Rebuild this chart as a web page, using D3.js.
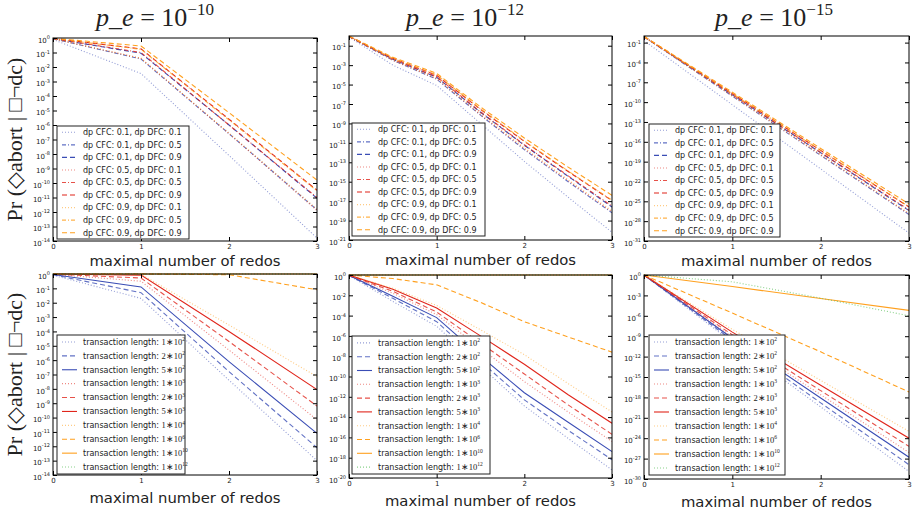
<!doctype html>
<html lang=en>
<head>
<meta charset=utf-8>
<title>Abort probability vs redos</title>
<script src="https://d3js.org/d3.v7.min.js"></script>
<style>
body{margin:0;background:#fff;}
svg text{font-family:"DejaVu Sans",sans-serif;fill:#222;}
</style>
</head>
<body>
<div id="container"></div>
<script>
var w = 912, h = 512;

// maximal number of redos (x values) per panel
var redosCoarse = [0, 1, 2, 3];
var redosFine = [0, 0.5, 1, 1.5, 2, 2.5, 3];
var xTicks = [0, 1, 2, 3];

var dpLabels = [
  "dp CFC: 0.1, dp DFC: 0.1", "dp CFC: 0.1, dp DFC: 0.5", "dp CFC: 0.1, dp DFC: 0.9",
  "dp CFC: 0.5, dp DFC: 0.1", "dp CFC: 0.5, dp DFC: 0.5", "dp CFC: 0.5, dp DFC: 0.9",
  "dp CFC: 0.9, dp DFC: 0.1", "dp CFC: 0.9, dp DFC: 0.5", "dp CFC: 0.9, dp DFC: 0.9"
];
// transaction length = mantissa * 10^exponent
var lengthMant = ["1", "2", "5", "1", "2", "5", "1", "1", "1", "1"];
var lengthExp = ["2", "2", "2", "3", "3", "3", "4", "6", "10", "12"];

var titleExps = ["−10", "−12", "−15"];

// log10 of Pr(abort | no dc), top row, one array per legend entry
var topPe10 = [
  [-0.1, -2.45, -8.1, -13.8],
  [-0.05, -1.45, -6.6, -11.85],
  [-0.04, -1.05, -6.0, -11.05],
  [-0.05, -1.4, -6.6, -11.9],
  [-0.04, -1.0, -6.0, -11.0],
  [-0.03, -0.75, -5.6, -10.5],
  [-0.05, -1.4, -6.55, -11.8],
  [-0.03, -0.78, -5.65, -10.55],
  [-0.02, -0.55, -5.15, -9.8]
];
var topPe12 = [
  [-0.1, -3.0, -5.1, -9.0, -12.9, -16.6, -20.2],
  [-0.06, -2.5, -4.45, -8.15, -11.7, -15.0, -18.2],
  [-0.05, -2.4, -4.25, -7.85, -11.25, -14.45, -17.6],
  [-0.06, -2.5, -4.4, -8.1, -11.6, -14.9, -18.1],
  [-0.05, -2.4, -4.2, -7.8, -11.2, -14.4, -17.5],
  [-0.02, -2.3, -4.05, -7.55, -10.85, -13.95, -16.95],
  [-0.05, -2.45, -4.35, -8.0, -11.5, -14.8, -18.0],
  [-0.02, -2.3, -4.0, -7.5, -10.8, -13.9, -16.9],
  [0, -2.2, -3.85, -7.3, -10.5, -13.5, -16.4]
];
var topPe15 = [
  [-0.7, -10.4, -20.1, -29.8],
  [-0.13, -9.1, -18.05, -27.0],
  [-0.1, -8.9, -17.65, -26.4],
  [-0.12, -9.05, -17.95, -26.9],
  [-0.1, -8.85, -17.6, -26.3],
  [-0.08, -8.7, -17.3, -25.85],
  [-0.12, -9.0, -17.9, -26.8],
  [-0.08, -8.7, -17.3, -25.8],
  [-0.05, -8.5, -17.0, -25.4]
];

// bottom row, one array per transaction length
var bottomPe10 = [
  [-0.08, -1.7, -7.4, -13.0],
  [-0.05, -1.3, -6.8, -12.1],
  [-0.03, -0.9, -6.1, -11.1],
  [-0.02, -0.5, -5.3, -10.15],
  [-0.01, -0.28, -4.7, -9.2],
  [0, -0.08, -4.0, -8.05],
  [0, -0.02, -3.55, -7.15],
  [0, 0, -0.05, -1.1],
  [0, 0, 0, 0],
  [0, 0, 0, 0]
];
var bottomPe12 = [
  [-0.05, -2.6, -5.05, -9.0, -12.9, -16.1, -19.2],
  [-0.04, -2.3, -4.6, -8.5, -12.3, -15.3, -18.2],
  [-0.03, -2.1, -4.2, -8.0, -11.6, -14.5, -17.4],
  [-0.02, -1.8, -3.9, -7.2, -10.5, -13.5, -16.4],
  [-0.02, -1.6, -3.65, -6.7, -9.75, -12.8, -15.7],
  [-0.01, -1.4, -3.25, -6.0, -8.8, -11.8, -14.6],
  [-0.01, -1.3, -3.0, -5.4, -7.85, -10.7, -13.5],
  [0, -0.35, -0.97, -2.7, -4.6, -6.1, -7.6],
  [0, 0, 0, 0, 0, 0, 0],
  [0, 0, 0, 0, 0, 0, 0]
];
var bottomPe15 = [
  [0, -9.9, -19.4, -28.9],
  [0, -9.6, -18.8, -27.9],
  [0, -9.3, -18.1, -26.8],
  [0, -9.1, -17.6, -26.1],
  [0, -8.8, -17.0, -25.2],
  [0, -8.4, -16.2, -24.0],
  [0, -8.0, -15.5, -23.0],
  [0, -5.6, -11.3, -17.2],
  [0, -1.7, -3.45, -5.2],
  [0, -1.0, -3.4, -6.0]
];

var blue = "#3a4db5", red = "#e0251b", orange = "#ffa01e", green = "#6cc66c";
var DOT = "1,2", DASHDOT = "4,2,1,2", DASH = "5,3";
var topStyles = [];
[blue, red, orange].forEach(function(c) {
  topStyles.push({c: c, dash: DOT, op: 0.55});
  topStyles.push({c: c, dash: DASHDOT, op: 0.8});
  topStyles.push({c: c, dash: DASH, op: 1});
});
var bottomStyles = [];
[blue, red, orange].forEach(function(c) {
  bottomStyles.push({c: c, dash: DOT, op: 0.55});
  bottomStyles.push({c: c, dash: DASH, op: c == orange ? 1 : 0.8});
  bottomStyles.push({c: c, dash: null, op: 1});
});
bottomStyles.push({c: green, dash: DOT, op: 0.8});

var panels = [
  {box: [53, 38, 317, 241], xs: redosCoarse, data: topPe10, yMin: -14, yTicks: d3.range(0, -15, -1), styles: topStyles, legend: [57, 126, 189, 239], top: true, col: 0, tx: 155},
  {box: [349, 36, 612, 240], xs: redosFine, data: topPe12, yMin: -21, yTicks: d3.range(-1, -22, -2), styles: topStyles, legend: [352, 123, 485, 236], top: true, col: 1, tx: 465},
  {box: [644, 36, 909, 241], xs: redosCoarse, data: topPe15, yMin: -31, yTicks: d3.range(-1, -32, -3), styles: topStyles, legend: [649, 124, 780, 237], top: true, col: 2, tx: 774},
  {box: [53, 274, 317, 475], xs: redosCoarse, data: bottomPe10, yMin: -14, yTicks: d3.range(0, -15, -1), styles: bottomStyles, legend: [57, 335, 185, 474], top: false, col: 0},
  {box: [349, 275, 612, 478], xs: redosFine, data: bottomPe12, yMin: -20, yTicks: d3.range(0, -21, -2), styles: bottomStyles, legend: [352, 336, 490, 474], top: false, col: 1},
  {box: [644, 275, 909, 479], xs: redosCoarse, data: bottomPe15, yMin: -30, yTicks: d3.range(0, -31, -3), styles: bottomStyles, legend: [649, 335, 785, 475], top: false, col: 2}
];

var svg = d3.select("#container").append("svg")
  .attr("width", w).attr("height", h)
  .style("background", "#fff");

panels.forEach(function(p) {
  var L = p.box[0], T = p.box[1], R = p.box[2], B = p.box[3];
  var x = d3.scaleLinear().domain([0, 3]).range([L, R]);
  var y = d3.scaleLog().domain([Math.pow(10, p.yMin), 1]).range([B, T]);
  var g = svg.append("g");

  var clipId = "clip" + L + "_" + T;
  g.append("clipPath").attr("id", clipId)
    .append("rect").attr("x", L).attr("y", T - 1).attr("width", R - L).attr("height", B - T + 2);

  var line = d3.line()
    .x(function(d, i) { return x(p.xs[i]); })
    .y(function(d) { return y(Math.pow(10, d)); });

  g.append("g").attr("clip-path", "url(#" + clipId + ")")
    .selectAll("path")
    .data(p.data)
    .enter()
    .append("path")
    .attr("d", line)
    .attr("fill", "none")
    .attr("stroke", function(d, i) { return p.styles[i].c; })
    .attr("stroke-opacity", function(d, i) { return p.styles[i].op; })
    .attr("stroke-width", 1.1)
    .attr("stroke-dasharray", function(d, i) { return p.styles[i].dash; });

  var tickVals = p.yTicks.map(function(e) { return Math.pow(10, e); });

  // left axis with superscript labels
  var yl = g.append("g").attr("transform", "translate(" + L + ",0)")
    .call(d3.axisLeft(y).tickValues(tickVals).tickSizeInner(-4).tickSizeOuter(0).tickPadding(3).tickFormat(""));
  yl.selectAll(".tick text").each(function(d) {
    var e = Math.round(Math.log10(d));
    var t = d3.select(this).attr("font-size", 7).attr("text-anchor", "end").attr("dy", "0.6em");
    t.append("tspan").text("10");
    t.append("tspan").attr("dy", -3.5).attr("font-size", 5).text(e == 0 ? "0" : "-" + Math.abs(e));
  });
  var yr = g.append("g").attr("transform", "translate(" + R + ",0)")
    .call(d3.axisRight(y).tickValues(tickVals).tickSizeInner(-4).tickSizeOuter(0).tickFormat(""));
  var xb = g.append("g").attr("transform", "translate(0," + B + ")")
    .call(d3.axisBottom(x).tickValues(xTicks).tickSizeInner(-4).tickSizeOuter(0).tickPadding(3).tickFormat(d3.format("d")));
  xb.selectAll(".tick text").attr("font-size", 7);
  var xt = g.append("g").attr("transform", "translate(0," + T + ")")
    .call(d3.axisTop(x).tickValues(xTicks).tickSizeInner(-4).tickSizeOuter(0).tickFormat(""));
  [yl, yr, xb, xt].forEach(function(a) {
    a.select(".domain").remove();
    a.selectAll(".tick line").attr("stroke", "#000");
  });

  g.append("rect").attr("x", L).attr("y", T).attr("width", R - L).attr("height", B - T)
    .attr("fill", "none").attr("stroke", "#000").attr("stroke-width", 1);

  // legend
  var lb = p.legend;
  var n = p.data.length;
  var rowH = (lb[3] - lb[1]) / n;
  var lg = g.append("g");
  lg.append("rect").attr("x", lb[0]).attr("y", lb[1]).attr("width", lb[2] - lb[0]).attr("height", lb[3] - lb[1])
    .attr("fill", "#fff").attr("stroke", "#222").attr("stroke-width", 1);
  p.styles.forEach(function(s, i) {
    var cy = lb[1] + rowH * (i + 0.5);
    lg.append("line").attr("x1", lb[0] + 5).attr("x2", lb[0] + 20).attr("y1", cy).attr("y2", cy)
      .attr("stroke", s.c).attr("stroke-opacity", s.op).attr("stroke-width", 1.1).attr("stroke-dasharray", s.dash);
    var t = lg.append("text").attr("x", lb[0] + 26).attr("y", cy).attr("dy", "0.35em").attr("font-size", 8);
    if (p.top) {
      t.text(dpLabels[i]);
    } else {
      t.append("tspan").text("transaction length: ");
      t.append("tspan").attr("font-family", "Liberation Serif, serif").attr("font-size", 8.5)
        .text(lengthMant[i] + "∗10");
      t.append("tspan").attr("font-family", "Liberation Serif, serif").attr("font-size", 5.5).attr("dy", -3.5)
        .text(lengthExp[i]);
    }
  });

  // x axis label
  g.append("text").attr("x", (L + R) / 2).attr("y", B + (p.top ? 25 : 28)).attr("text-anchor", "middle")
    .attr("font-size", 14.8).text("maximal number of redos");

  // y axis label only on the left column
  if (p.col == 0) {
    g.append("text")
      .attr("transform", "translate(22," + ((T + B) / 2) + ") rotate(-90)")
      .attr("text-anchor", "middle")
      .style("font-family", "Liberation Serif, serif")
      .attr("font-size", 22)
      .text("Pr (◇abort | □¬dc)");
  }

  // column titles on the top row
  if (p.top) {
    var tt = g.append("text").attr("x", p.tx).attr("y", 26).attr("text-anchor", "middle")
      .style("font-family", "Liberation Serif, serif").attr("font-size", 26);
    tt.append("tspan").attr("font-style", "italic").text("p_e");
    tt.append("tspan").text(" = 10");
    tt.append("tspan").attr("font-size", 17).attr("dy", -11).text(titleExps[p.col]);
  }
});
</script>
</body>
</html>
